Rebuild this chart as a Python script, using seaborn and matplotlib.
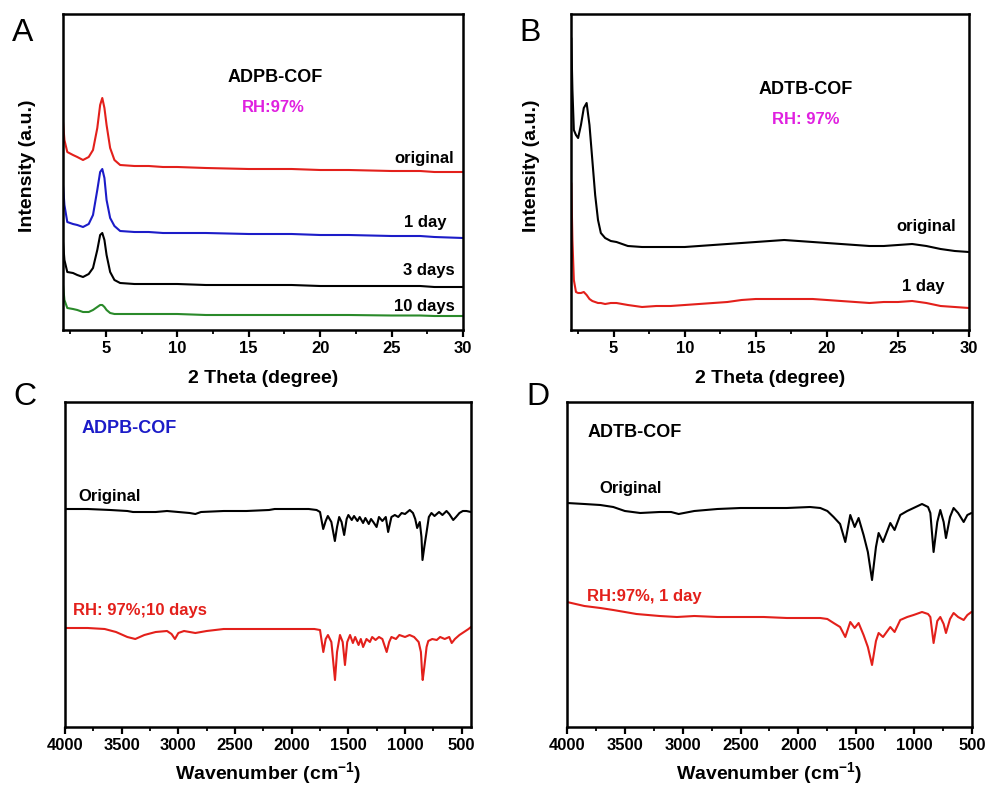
import matplotlib
matplotlib.use("Agg")
import matplotlib.pyplot as plt
import seaborn as sns
import pandas as pd
from matplotlib.ticker import MultipleLocator

# ---------------- data ----------------
# Panel A: ADPB-COF PXRD (2 theta, intensity a.u.)
a_x = [2.0, 2.1, 2.3, 2.7, 3.0, 3.4, 3.8, 4.1, 4.4, 4.6, 4.75, 4.9, 5.05, 5.3, 5.6, 6.0,
       7, 8, 9, 10, 12, 15, 18, 20, 22, 25, 27, 28, 30]
a_original = [208, 190, 178, 175, 173, 170, 173, 180, 202, 225, 232, 222, 205, 182, 170, 165,
              164, 164, 163, 163, 162, 161, 161, 160, 160, 159, 159, 158, 158]
a_1day = [145, 125, 108, 106, 105, 103, 106, 115, 140, 158, 161, 152, 130, 112, 104, 99,
          98, 98, 97, 97, 97, 96, 96, 95, 95, 94, 94, 93, 92]
a_3days = [88, 70, 58, 57, 55, 53, 56, 62, 80, 95, 97, 90, 75, 58, 50, 47,
           46, 46, 46, 46, 45, 45, 45, 44, 44, 44, 44, 43, 43]
a_10days = [45, 30, 22, 21, 20, 18, 18, 20, 23, 25, 25, 23, 20, 17, 16, 16,
            16, 16, 16, 16, 15, 15, 15, 15, 15, 14.5, 14.5, 14, 14]

# Panel B: ADTB-COF PXRD
b_x = [2.02, 2.1, 2.2, 2.35, 2.5, 2.7, 2.9, 3.1, 3.3, 3.5, 3.7, 3.9, 4.1, 4.4, 4.8, 5.2,
       5.6, 6, 7, 8, 9, 10, 11, 12, 13, 14, 15, 16, 17, 18, 19, 20, 21, 22, 23, 24, 25,
       26, 27, 28, 29, 30]
b_original = [292, 240, 200, 195, 192, 205, 222, 227, 205, 170, 135, 110, 97, 92, 89, 88,
              86, 84, 83, 83, 83, 83, 84, 85, 86, 87, 88, 89, 90, 89, 88, 87, 86, 85, 84,
              84, 85, 86, 84, 81, 79, 78]
b_1day = [147, 90, 50, 38, 37, 37, 38, 35, 31, 29, 28, 27, 27, 26, 27, 27,
          26, 25, 23, 24, 24, 25, 26, 27, 28, 30, 31, 31, 31, 31, 31, 30, 29, 28, 27,
          28, 28, 29, 27, 24, 23, 22]

# Panel C: ADPB-COF FTIR (wavenumber, transmittance a.u.)
c_orig_w = [4000, 3800, 3600, 3450, 3400, 3300, 3200, 3100, 3000, 2900, 2850, 2800, 2600,
            2400, 2200, 2150, 2000, 1850, 1780, 1750, 1722, 1700, 1681, 1650, 1619, 1600,
            1581, 1560, 1537, 1515, 1500, 1470, 1450, 1420, 1400, 1370, 1350, 1320, 1300,
            1280, 1251, 1230, 1200, 1170, 1149, 1120, 1090, 1060, 1030, 1000, 958, 930,
            910, 893, 870, 855, 846, 830, 811, 790, 767, 740, 700, 670, 634, 610, 575,
            550, 520, 490, 458, 418]
c_orig_t = [218, 218, 217, 216, 215, 215, 215, 216, 215, 214, 213, 215, 216,
            216, 217, 218, 218, 218, 217, 215, 198, 206, 211, 205, 186, 200,
            210, 205, 192, 208, 212, 207, 211, 206, 210, 204, 209, 203, 208,
            205, 200, 210, 206, 210, 195, 210, 212, 210, 214, 213, 217, 214,
            208, 199, 205, 190, 167, 180, 194, 210, 214, 211, 215, 212, 216, 213, 207,
            210, 214, 216, 216, 215]
c_rh_w = [4000, 3800, 3650, 3550, 3450, 3380, 3300, 3200, 3100, 3060, 3030, 3000, 2950,
          2850, 2750, 2600, 2400, 2200, 2000, 1800, 1750, 1721, 1700, 1680, 1650, 1618,
          1600, 1574, 1550, 1530, 1510, 1485, 1460, 1440, 1410, 1390, 1370, 1340, 1310,
          1290, 1260, 1230, 1200, 1162, 1140, 1120, 1080, 1050, 1000, 960, 920, 880,
          860, 850, 844, 830, 810, 795, 760, 720, 690, 650, 610, 588, 560, 520, 480,
          440, 418]
c_rh_t = [99, 99, 98, 95, 90, 88, 92, 95, 96, 93, 88, 94, 96,
          94, 96, 98, 98, 98, 98, 98, 97, 75, 88, 92, 85, 47,
          75, 92, 85, 62, 85, 92, 84, 90, 82, 88, 80, 88, 85,
          90, 87, 90, 88, 75, 85, 90, 88, 92, 90, 92, 90, 85,
          75, 55, 47, 60, 80, 86, 88, 87, 90, 88, 90, 84, 88, 92, 95,
          98, 100]

# Panel D: ADTB-COF FTIR
d_orig_w = [4000, 3850, 3712, 3600, 3500, 3367, 3200, 3100, 3035, 2900, 2700, 2500, 2300,
            2100, 1900, 1811, 1750, 1696, 1640, 1595, 1552, 1514, 1480, 1437, 1400, 1364,
            1330, 1307, 1269, 1206, 1169, 1120, 1060, 1005, 932, 880, 860, 832, 800, 774,
            745, 725, 690, 659, 620, 572, 540, 505]
d_orig_t = [224, 223, 222, 220, 216, 214, 215, 215, 213, 216, 218, 219, 219,
            219, 220, 219, 216, 210, 203, 185, 212, 200, 209, 192, 175, 147,
            180, 194, 185, 204, 197, 212, 216, 219, 223, 220, 214, 175, 205, 217,
            205, 189, 210, 219, 214, 205, 212, 214]
d_rh_w = [4000, 3850, 3712, 3600, 3500, 3400, 3200, 3050, 2900, 2700, 2500, 2300, 2100,
          1900, 1811, 1750, 1696, 1640, 1595, 1552, 1514, 1480, 1437, 1400, 1364, 1330,
          1307, 1269, 1206, 1169, 1120, 1060, 1005, 932, 880, 860, 832, 800, 774, 745,
          725, 690, 659, 620, 572, 540, 505]
d_rh_t = [125, 121, 119, 117, 115, 113, 111, 110, 111, 110, 110, 110, 109,
          109, 109, 108, 104, 100, 90, 105, 99, 104, 92, 80, 62, 86,
          94, 90, 100, 95, 107, 110, 112, 115, 113, 110, 84, 106, 110, 103,
          94, 108, 114, 110, 107, 112, 115]

# ---------------- style ----------------
sns.set_theme(style="ticks")
plt.rcParams['font.family'] = ['Liberation Sans', 'DejaVu Sans']
plt.rcParams['font.weight'] = 'bold'
plt.rcParams['text.color'] = 'black'
plt.rcParams['axes.labelcolor'] = 'black'
plt.rcParams['xtick.color'] = 'black'
plt.rcParams['mathtext.fontset'] = 'custom'
plt.rcParams['mathtext.rm'] = 'Liberation Sans:bold'
plt.rcParams['mathtext.bf'] = 'Liberation Sans:bold'
plt.rcParams['mathtext.it'] = 'Liberation Sans:bold'

RED = '#e3201b'
BLUE = '#1c1cc8'
GREEN = '#2a8a2a'
MAGENTA = '#e020e0'

fig = plt.figure(figsize=(9.92, 7.89), dpi=100)
W, H = 992, 789


def px_axes(l, t, r, b):
    return fig.add_axes([l / W, 1 - b / H, (r - l) / W, (b - t) / H])


def style_axes(ax, major, minor):
    for s in ax.spines.values():
        s.set_linewidth(1.8)
        s.set_color('black')
    ax.set_yticks([])
    ax.xaxis.set_major_locator(MultipleLocator(major))
    ax.xaxis.set_minor_locator(MultipleLocator(minor))
    ax.tick_params(axis='x', which='major', direction='out', length=5, width=1.6,
                   labelsize=12, pad=3, colors='black')
    ax.tick_params(axis='x', which='minor', direction='out', length=3, width=1.3)
    for lab in ax.get_xticklabels():
        lab.set_fontweight('bold')
    ax.set_facecolor('white')


def ftext(x, y, s, **kw):
    kw.setdefault('fontweight', 'bold')
    fig.text(x / W, 1 - y / H, s, **kw)


def set_labels(ax, xl, xy, yl=None, yx=None):
    ax.set_xlabel(xl, fontsize=14, fontweight='bold', va='center')
    ax.xaxis.set_label_coords(0.5, xy)
    if yl:
        ax.set_ylabel(yl, fontsize=14, fontweight='bold', va='center')
        ax.yaxis.set_label_coords(yx, 0.52)
    else:
        ax.set_ylabel('')


LW = 1.5
TS = 12    # annotation text size
NS = 13    # sample name size
PL = 23    # panel letter size

# ---- Panel A ----
axA = px_axes(63, 14, 463, 330)
dfA = pd.DataFrame({'x': a_x, 'original': a_original, '1 day': a_1day,
                    '3 days': a_3days, '10 days': a_10days})
for col, c in [('original', RED), ('1 day', BLUE), ('3 days', 'black'), ('10 days', GREEN)]:
    sns.lineplot(data=dfA, x='x', y=col, ax=axA, color=c, lw=LW, estimator=None)
axA.set_xlim(2, 30)
axA.set_ylim(0, 316)
style_axes(axA, 5, 2.5)
axA.set_xticks([5, 10, 15, 20, 25, 30])
set_labels(axA, '2 Theta (degree)', -0.152, 'Intensity (a.u.)', -0.09)

ftext(275, 77, 'ADPB-COF', fontsize=NS, ha='center', va='center')
ftext(273, 108, 'RH:97%', fontsize=TS, ha='center', va='center', color=MAGENTA)
ftext(454, 158, 'original', fontsize=TS, ha='right', va='center')
ftext(446, 223, '1 day', fontsize=TS, ha='right', va='center')
ftext(455, 271, '3 days', fontsize=TS, ha='right', va='center')
ftext(455, 306, '10 days', fontsize=TS, ha='right', va='center')
ftext(23, 33, 'A', fontsize=PL, fontweight='normal', ha='center', va='center')

# ---- Panel B ----
axB = px_axes(571, 14, 969, 330)
dfB = pd.DataFrame({'x': b_x, 'original': b_original, '1 day': b_1day})
for col, c in [('original', 'black'), ('1 day', RED)]:
    sns.lineplot(data=dfB, x='x', y=col, ax=axB, color=c, lw=LW, estimator=None)
axB.set_xlim(2, 30)
axB.set_ylim(0, 316)
style_axes(axB, 5, 2.5)
axB.set_xticks([5, 10, 15, 20, 25, 30])
set_labels(axB, '2 Theta (degree)', -0.152, 'Intensity (a.u.)', -0.1)

ftext(806, 90, 'ADTB-COF', fontsize=NS, ha='center', va='center')
ftext(806, 119, 'RH: 97%', fontsize=TS, ha='center', va='center', color=MAGENTA)
ftext(956, 227, 'original', fontsize=TS, ha='right', va='center')
ftext(945, 287, '1 day', fontsize=TS, ha='right', va='center')
ftext(530, 33, 'B', fontsize=PL, fontweight='normal', ha='center', va='center')

# ---- Panel C ----
axC = px_axes(65, 402, 471, 727)
dfC1 = pd.DataFrame({'w': c_orig_w, 't': c_orig_t})
dfC2 = pd.DataFrame({'w': c_rh_w, 't': c_rh_t})
sns.lineplot(data=dfC1, x='w', y='t', ax=axC, color='black', lw=LW, estimator=None)
sns.lineplot(data=dfC2, x='w', y='t', ax=axC, color=RED, lw=LW, estimator=None)
axC.set_xlim(4000, 418)
axC.set_ylim(0, 325)
style_axes(axC, 500, 250)
axC.set_xticks([4000, 3500, 3000, 2500, 2000, 1500, 1000, 500])
set_labels(axC, 'Wavenumber (cm$^{-1}$)', -0.143)

ftext(82, 428, 'ADPB-COF', fontsize=NS, ha='left', va='center', color=BLUE)
ftext(78, 497, 'Original', fontsize=TS, ha='left', va='center')
ftext(73, 610, 'RH: 97%;10 days', fontsize=TS, ha='left', va='center', color=RED)
ftext(25, 397, 'C', fontsize=PL, fontweight='normal', ha='center', va='center')

# ---- Panel D ----
axD = px_axes(567, 402, 972, 727)
dfD1 = pd.DataFrame({'w': d_orig_w, 't': d_orig_t})
dfD2 = pd.DataFrame({'w': d_rh_w, 't': d_rh_t})
sns.lineplot(data=dfD1, x='w', y='t', ax=axD, color='black', lw=LW, estimator=None)
sns.lineplot(data=dfD2, x='w', y='t', ax=axD, color=RED, lw=LW, estimator=None)
axD.set_xlim(4000, 500)
axD.set_ylim(0, 325)
style_axes(axD, 500, 250)
axD.set_xticks([4000, 3500, 3000, 2500, 2000, 1500, 1000, 500])
set_labels(axD, 'Wavenumber (cm$^{-1}$)', -0.143)

ftext(588, 433, 'ADTB-COF', fontsize=NS, ha='left', va='center')
ftext(599, 489, 'Original', fontsize=TS, ha='left', va='center')
ftext(587, 597, 'RH:97%, 1 day', fontsize=TS, ha='left', va='center', color=RED)
ftext(538, 397, 'D', fontsize=PL, fontweight='normal', ha='center', va='center')

fig.savefig('out.png', dpi=100, facecolor='white')
